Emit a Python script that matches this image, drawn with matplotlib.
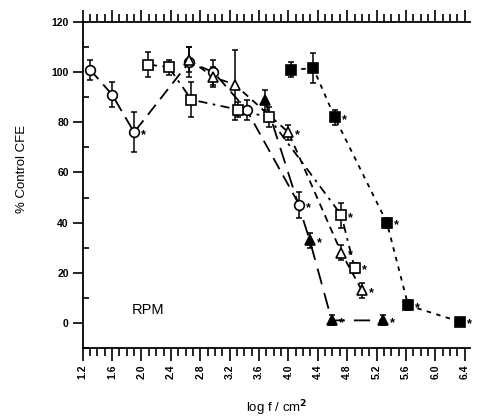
import matplotlib.pyplot as plt
from matplotlib.ticker import MultipleLocator, FormatStrFormatter

plt.rcParams['font.family'] = ['Liberation Sans', 'DejaVu Sans']

# open circles
circ_x = [1.3, 1.6, 1.9, 2.65, 2.98, 3.43, 4.15]
circ_y = [101, 91, 76, 104, 100, 85, 47]
circ_err = [4, 5, 8, 6, 5, 4, 5]
circ_sig = [0, 0, 1, 0, 0, 0, 1]

# open squares
sqo_x = [2.09, 2.37, 2.68, 3.32, 3.73, 4.72, 4.9]
sqo_y = [103, 102, 89, 85, 82, 43, 22]
sqo_err = [5, 3, 7, 3, 4, 5, 2]
sqo_sig = [0, 0, 0, 0, 0, 1, 1]

# open triangles
tro_x = [2.65, 2.98, 3.27, 4.0, 4.72, 5.0]
tro_y = [105, 98, 95, 76, 28, 13]
tro_err = [5, 4, 14, 3, 3, 3]
tro_sig = [0, 0, 0, 1, 1, 1]

# filled triangles
trf_x = [3.68, 4.29, 4.59, 5.29]
trf_y = [89, 33, 1, 1]
trf_err = [4, 3, 2, 2]
trf_sig = [0, 1, 1, 1]

# filled squares
sqf_x = [4.04, 4.34, 4.63, 5.34, 5.63, 6.33]
sqf_y = [101, 101.5, 82, 40, 7, 0.5]
sqf_err = [3, 6, 3, 2, 2, 1]
sqf_sig = [0, 0, 1, 1, 1, 1]

fig = plt.figure(figsize=(4.78, 4.18), dpi=100)
ax = fig.add_axes([0.173, 0.1675, 0.81, 0.78])

series = [
    (circ_x, circ_y, circ_err, circ_sig, 'o', 'white', (7, 4)),
    (sqo_x, sqo_y, sqo_err, sqo_sig, 's', 'white', (5, 3, 1.5, 3)),
    (tro_x, tro_y, tro_err, tro_sig, '^', 'white', (4, 3)),
    (trf_x, trf_y, trf_err, trf_sig, '^', 'black', (9, 5)),
    (sqf_x, sqf_y, sqf_err, sqf_sig, 's', 'black', (2.5, 3)),
]

for x, y, err, sig, mk, face, dash in series:
    ax.plot(x, y, color='black', lw=1.3, dashes=dash, zorder=2)
    ax.errorbar(x, y, yerr=err, fmt='none', ecolor='black', elinewidth=1.1,
                capsize=2, capthick=1.1, zorder=3)
    ax.plot(x, y, ls='none', marker=mk, ms=7, mfc=face, mec='black',
            mew=1.2, zorder=4)
    for xi, yi, s in zip(x, y, sig):
        if s:
            ax.annotate('*', (xi, yi), xytext=(5, -2), textcoords='offset points',
                        fontsize=9, fontweight='bold', va='center', ha='left')

ax.text(2.09, 5, 'RPM', fontsize=10.5, ha='center', va='center')

ax.set_xlim(1.2, 6.47)
ax.set_ylim(-10, 120)
ax.xaxis.set_major_locator(MultipleLocator(0.4))
ax.xaxis.set_minor_locator(MultipleLocator(0.1))
ax.xaxis.set_major_formatter(FormatStrFormatter('%.1f'))
ax.set_yticks([0, 20, 40, 60, 80, 100, 120])
ax.yaxis.set_minor_locator(MultipleLocator(10))

ax.spines['right'].set_visible(False)
for s in ['left', 'bottom', 'top']:
    ax.spines[s].set_linewidth(1.3)

ax.tick_params(axis='x', which='both', direction='out', top=True, width=1.2)
ax.tick_params(axis='x', which='major', length=9, labelsize=7.5, labelrotation=90, pad=3)
ax.tick_params(axis='x', which='minor', length=6)
ax.tick_params(axis='y', which='major', direction='out', length=7, width=1.2, labelsize=7.5, pad=3)
ax.tick_params(axis='y', which='minor', direction='in', length=4, width=1.2)
for lab in ax.get_xticklabels() + ax.get_yticklabels():
    lab.set_fontweight('bold')

ax.set_ylabel('% Control CFE', fontsize=9.5)
ax.yaxis.set_label_coords(-0.14, 0.55)
ax.set_xlabel('log f / cm$^{\\mathbf{2}}$', fontsize=9.5)
ax.xaxis.set_label_coords(0.5, -0.155)

fig.savefig('out.png', dpi=100)
